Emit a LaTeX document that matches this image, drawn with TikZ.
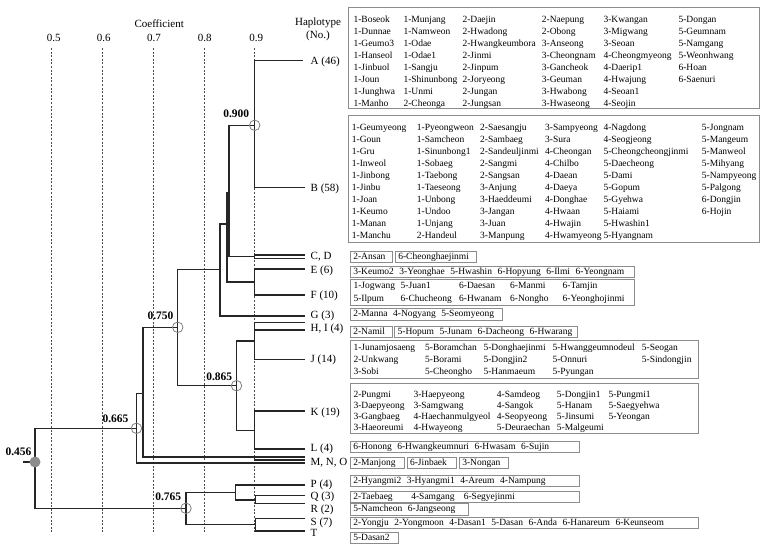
\documentclass[tikz,border=0pt]{standalone}
\usepackage{fontspec}
\setmainfont{Liberation Serif}
\newcommand\lst[2]{{\fontsize{9.5}{#1}\selectfont\begin{tabular}{@{}l@{}}#2\end{tabular}}}
\newcommand\gp{\hspace{5.5pt}}
\newcommand\onebox[5]{\node[lbox] (#1) at (#2,#3) {\makebox[#4pt][l]{#5}};}
\tikzset{
 tl/.style={line width=1.1pt, draw=black!85},
 dsh/.style={draw=black!70, line width=0.55pt, dash pattern=on 2pt off 1.6pt},
 ring/.style={circle, draw=black!50, line width=0.8pt, minimum size=10.5pt, inner sep=0pt},
 rootdot/.style={circle, fill=black!45, minimum size=11pt, inner sep=0pt},
 axl/.style={inner sep=0pt, font=\fontsize{11}{12.4}\selectfont},
 hlab/.style={anchor=base west, inner sep=0pt, font=\fontsize{11}{12}\selectfont},
 blab/.style={inner sep=0pt, font=\fontsize{11.5}{12}\selectfont\bfseries},
 lbox/.style={draw=black!45, line width=0.6pt, anchor=north west, inner xsep=3pt, inner ysep=0.8pt, text height=7.2pt, text depth=2.4pt, font=\fontsize{9.5}{12}\selectfont},
 bigbox/.style={draw=black!45, line width=0.6pt, inner sep=0pt, anchor=north west},
 coltxt/.style={anchor=north west, inner sep=0pt}
}
\begin{document}
\begin{tikzpicture}[x=1pt,y=-1pt]
\useasboundingbox (0,0) rectangle (771,551);
% grid
\foreach \x in {51.3,102.3,153,204.3,254.7} \draw[dsh] (\x,48) -- (\x,532);
% axis texts
\node[axl] (ttl) at (159.2,23.3) {Coefficient};
\node[axl, align=center] (hap) at (318,29.5) {Haplotype\\(No.)};
\node[axl] (t5) at (53.8,38.3) {0.5};
\node[axl] (t6) at (103.8,38.3) {0.6};
\node[axl] (t7) at (154,38.3) {0.7};
\node[axl] (t8) at (204.8,38.3) {0.8};
\node[axl] (t9) at (256.3,38.3) {0.9};
% tree coordinates
\coordinate (root) at (35,462);
\coordinate (stub) at (23,462);
\coordinate (c900) at (254.7,125.3);
\coordinate (m1) at (229,192.7);
\coordinate (m2) at (227,224);
\coordinate (m3) at (220,269.3);
\coordinate (c750) at (177.7,327.3);
\coordinate (m4) at (143,393.3);
\coordinate (c665) at (136.5,428.3);
\coordinate (c865) at (236.5,385.7);
\coordinate (hij) at (254.5,341);
\coordinate (kl) at (254.5,430.7);
\coordinate (ef) at (254.5,282);
\coordinate (cd) at (254.5,256.7);
\coordinate (mn) at (254.5,457);
\coordinate (c765) at (186,508.3);
\coordinate (pqr) at (235.7,492.3);
\coordinate (qr) at (255.7,500);
\coordinate (st) at (255.7,524.3);
\coordinate (eA) at (303,60.7);
\coordinate (eB) at (305,187.3);
\coordinate (eC) at (305,255);
\coordinate (eD) at (305,258.3);
\coordinate (eE) at (305,269);
\coordinate (eF) at (305,295);
\coordinate (eG) at (305,316);
\coordinate (eH) at (305,322.7);
\coordinate (eI) at (305,330);
\coordinate (eJ) at (305,359.3);
\coordinate (eK) at (305,411);
\coordinate (eL) at (305,449);
\coordinate (eM) at (305,457);
\coordinate (eN) at (305,460);
\coordinate (eO) at (305,463);
\coordinate (eP) at (305,485);
\coordinate (eQ) at (305,495.7);
\coordinate (eR) at (305,503.3);
\coordinate (eS) at (305,518.3);
\coordinate (eT) at (305,531);
% tree lines
\draw[tl] (eA) -| (c900) |- (eB);
\draw[tl] (c900) -| (m1) |- (cd);
\draw[tl] (eC) -| (cd) |- (eD);
\draw[tl] (m1) -| (m2) |- (ef);
\draw[tl] (eE) -| (ef) |- (eF);
\draw[tl] (m2) -| (m3) |- (eG);
\draw[tl] (m3) -| (c750) |- (c865);
\draw[tl] (hij) -| (c865) |- (kl);
\draw[tl] (eH) -| (hij) |- (eJ);
\draw[tl] (eI) -- (eI -| hij);
\draw[tl] (eK) -| (kl) |- (eL);
\draw[tl] (c750) -| (m4) |- (mn);
\draw[tl] (eM) -| (mn) |- (eN);
\draw[tl] (m4) -| (c665) |- (eO);
\draw[tl] (c665) -| (root) |- (c765);
\draw[tl] (stub) -- (root);
\draw[tl] (pqr) -| (c765) |- (st);
\draw[tl] (eP) -| (pqr) |- (qr);
\draw[tl] (eQ) -| (qr) |- (eR);
\draw[tl] (eS) -| (st) |- (eT);
% rings
\node[ring] (n900) at (c900) {};
\node[ring] (n750) at (c750) {};
\node[ring] (n865) at (c865) {};
\node[ring] (n665) at (c665) {};
\node[ring] (n765) at (c765) {};
\node[rootdot] (n456) at (root) {};
% values
\node[blab] (v900) at (236.3,114) {0.900};
\node[blab] (v750) at (160.5,315.7) {0.750};
\node[blab] (v865) at (219.2,376.7) {0.865};
\node[blab] (v665) at (115.5,418.7) {0.665};
\node[blab] (v765) at (168.3,496.7) {0.765};
\node[blab] (v456) at (18.5,451.7) {0.456};
% haplotype labels
\node[hlab] (lA) at (310.5,64.4) {A (46)};
\node[hlab] (lB) at (310.5,191) {B (58)};
\node[hlab] (lCD) at (310.5,259.7) {C, D};
\node[hlab] (lE) at (310.5,273.7) {E (6)};
\node[hlab] (lF) at (310.5,298) {F (10)};
\node[hlab] (lG) at (310.5,318.7) {G (3)};
\node[hlab] (lHI) at (310.5,331.7) {H, I (4)};
\node[hlab] (lJ) at (310.5,362.7) {J (14)};
\node[hlab] (lK) at (310.5,415.4) {K (19)};
\node[hlab] (lL) at (310.5,451) {L (4)};
\node[hlab] (lMNO) at (310.5,465.4) {M, N, O};
\node[hlab] (lP) at (310.5,487) {P (4)};
\node[hlab] (lQ) at (310.5,499.4) {Q (3)};
\node[hlab] (lR) at (310.5,512) {R (2)};
\node[hlab] (lS) at (310.5,525.4) {S (7)};
\node[hlab] (lT) at (310.5,536.4) {T};
% box A
\node[bigbox, minimum width=411pt, minimum height=101pt] (boxA) at (348,7) {};
\node[coltxt] (a1) at (353.3,13.6) {\lst{12}{1-Boseok\\1-Dunnae\\1-Geumo3\\1-Hanseol\\1-Jinbuol\\1-Joun\\1-Junghwa\\1-Manho}};
\node[coltxt] (a2) at (403.3,13.6) {\lst{12}{1-Munjang\\1-Namweon\\1-Odae\\1-Odae1\\1-Sangju\\1-Shinunbong\\1-Unmi\\2-Cheonga}};
\node[coltxt] (a3) at (462.3,13.6) {\lst{12}{2-Daejin\\2-Hwadong\\2-Hwangkeumbora\\2-Jinmi\\2-Jinpum\\2-Joryeong\\2-Jungan\\2-Jungsan}};
\node[coltxt] (a4) at (541.7,13.6) {\lst{12}{2-Naepung\\2-Obong\\3-Anseong\\3-Cheongnam\\3-Gancheok\\3-Geuman\\3-Hwabong\\3-Hwaseong}};
\node[coltxt] (a5) at (603.3,13.6) {\lst{12}{3-Kwangan\\3-Migwang\\3-Seoan\\4-Cheongmyeong\\4-Daerip1\\4-Hwajung\\4-Seoan1\\4-Seojin}};
\node[coltxt] (a6) at (678.3,13.6) {\lst{12}{5-Dongan\\5-Geumnam\\5-Namgang\\5-Weonhwang\\6-Hoan\\6-Saenuri}};
% box B
\node[bigbox, minimum width=411pt, minimum height=127pt] (boxB) at (348,115) {};
\node[coltxt] (b1) at (351.7,121.6) {\lst{12}{1-Geumyeong\\1-Goun\\1-Gru\\1-Inweol\\1-Jinbong\\1-Jinbu\\1-Joan\\1-Keumo\\1-Manan\\1-Manchu}};
\node[coltxt] (b2) at (416.7,121.6) {\lst{12}{1-Pyeongweon\\1-Samcheon\\1-Sinunbong1\\1-Sobaeg\\1-Taebong\\1-Taeseong\\1-Unbong\\1-Undoo\\1-Unjang\\2-Handeul}};
\node[coltxt] (b3) at (480,121.6) {\lst{12}{2-Saesangju\\2-Sambaeg\\2-Sandeuljinmi\\2-Sangmi\\2-Sangsan\\3-Anjung\\3-Haeddeumi\\3-Jangan\\3-Juan\\3-Manpung}};
\node[coltxt] (b4) at (545,121.6) {\lst{12}{3-Sampyeong\\3-Sura\\4-Cheongan\\4-Chilbo\\4-Daean\\4-Daeya\\4-Donghae\\4-Hwaan\\4-Hwajin\\4-Hwamyeong}};
\node[coltxt] (b5) at (603.3,121.6) {\lst{12}{4-Nagdong\\4-Seogjeong\\5-Cheongcheongjinmi\\5-Daecheong\\5-Dami\\5-Gopum\\5-Gyehwa\\5-Haiami\\5-Hwashin1\\5-Hyangnam}};
\node[coltxt] (b6) at (701.7,121.6) {\lst{12}{5-Jongnam\\5-Mangeum\\5-Manweol\\5-Mihyang\\5-Nampyeong\\5-Palgong\\6-Dongjin\\6-Hojin}};
% C, D
\onebox{bC}{350}{251}{35.7}{2-Ansan}
\onebox{bD}{395}{251}{74.7}{6-Cheonghaejinmi}
% E
\onebox{bE}{350}{266}{278.3}{3-Keumo2\gp 3-Yeonghae\gp 5-Hwashin\gp 6-Hopyung\gp 6-Ilmi\gp 6-Yeongnam}
% F
\node[bigbox, minimum width=284.3pt, minimum height=26pt] (boxF) at (350,279) {};
\node[coltxt] (f1) at (353.3,278.9) {\lst{13}{1-Jogwang\\5-Ilpum}};
\node[coltxt] (f2) at (400.5,278.9) {\lst{13}{5-Juan1\\6-Chucheong}};
\node[coltxt] (f3) at (459,278.9) {\lst{13}{6-Daesan\\6-Hwanam}};
\node[coltxt] (f4) at (510,278.9) {\lst{13}{6-Manmi\\6-Nongho}};
\node[coltxt] (f5) at (562.5,278.9) {\lst{13}{6-Tamjin\\6-Yeonghojinmi}};
% G
\onebox{bG}{350}{308.3}{145.7}{2-Manna\gp 4-Nogyang\gp 5-Seomyeong}
% H, I
\onebox{bH}{350}{325.7}{35.7}{2-Namil}
\onebox{bI}{394.3}{325.7}{177}{5-Hopum\gp 5-Junam\gp 6-Dacheong\gp 6-Hwarang}
% J
\node[bigbox, minimum width=347.7pt, minimum height=38.3pt] (boxJ) at (350,339.7) {};
\node[coltxt] (j1) at (353.3,341.9) {\lst{12}{1-Junamjosaeng\\2-Unkwang\\3-Sobi}};
\node[coltxt] (j2) at (425,341.9) {\lst{12}{5-Boramchan\\5-Borami\\5-Cheongho}};
\node[coltxt] (j3) at (483.3,341.9) {\lst{12}{5-Donghaejinmi\\5-Dongjin2\\5-Hanmaeum}};
\node[coltxt] (j4) at (552.3,341.9) {\lst{12}{5-Hwanggeumnodeul\\5-Onnuri\\5-Pyungan}};
\node[coltxt] (j5) at (641.7,341.9) {\lst{12}{5-Seogan\\5-Sindongjin}};
% K
\node[bigbox, minimum width=347.7pt, minimum height=50.3pt] (boxK) at (350,383) {};
\node[coltxt] (k1) at (353.3,389.8) {\lst{11}{2-Pungmi\\3-Daepyeong\\3-Gangbaeg\\3-Haeoreumi}};
\node[coltxt] (k2) at (413.3,389.8) {\lst{11}{3-Haepyeong\\3-Samgwang\\4-Haechanmulgyeol\\4-Hwayeong}};
\node[coltxt] (k3) at (496.7,389.8) {\lst{11}{4-Samdeog\\4-Sangok\\4-Seopyeong\\5-Deuraechan}};
\node[coltxt] (k4) at (556.7,389.8) {\lst{11}{5-Dongjin1\\5-Hanam\\5-Jinsumi\\5-Malgeumi}};
\node[coltxt] (k5) at (608.3,389.8) {\lst{11}{5-Pungmi1\\5-Saegyehwa\\5-Yeongan}};
% L
\onebox{bL}{350}{440.7}{223.3}{6-Honong\gp 6-Hwangkeumnuri\gp 6-Hwasam\gp 6-Sujin}
% M, N, O
\onebox{bM}{350}{456.7}{48.3}{2-Manjong}
\onebox{bN}{406.7}{456.7}{43.3}{6-Jinbaek}
\onebox{bO}{459}{456.7}{42.7}{3-Nongan}
% P, Q, R, S, T
\onebox{bP}{350}{475}{223.3}{2-Hyangmi2\gp 3-Hyangmi1\gp 4-Areum\gp 4-Nampung}
\onebox{bQ}{350}{490.7}{223.3}{\makebox[58pt][l]{2-Taebaeg}\makebox[52.5pt][l]{4-Samgang}6-Segyejinmi}
\onebox{bR}{350}{503.3}{111.7}{5-Namcheon\gp 6-Jangseong}
\onebox{bS}{350}{516.7}{342.3}{2-Yongju\gp 2-Yongmoon\gp 4-Dasan1\gp 5-Dasan\gp 6-Anda\gp 6-Hanareum\gp 6-Keunseom}
\onebox{bT}{350}{531.7}{42.3}{5-Dasan2}
\end{tikzpicture}
\end{document}
